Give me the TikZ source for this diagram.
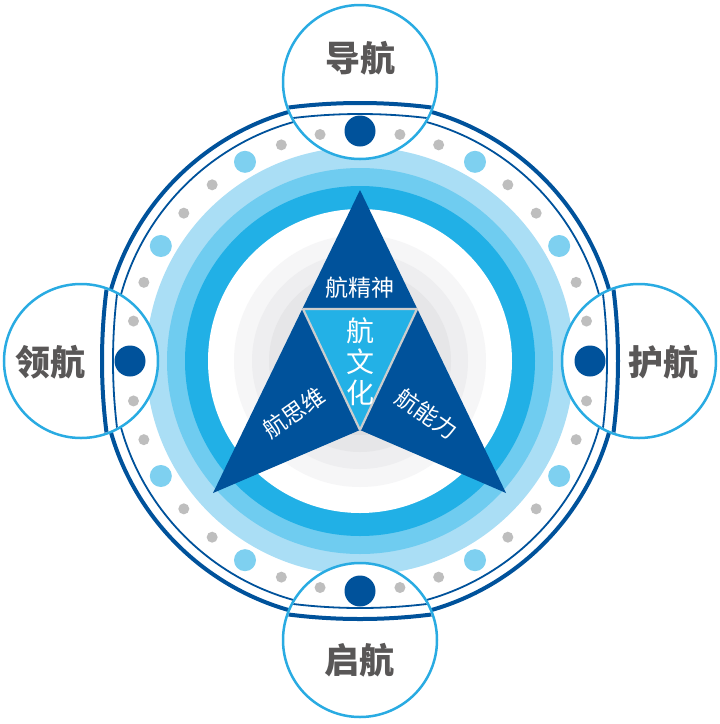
\documentclass[tikz,border=0pt]{standalone}
\usepackage{fontspec}
\newfontfamily\cjk{Noto Sans CJK SC}
\usepackage{tikz}
\usetikzlibrary{positioning}
\definecolor{navy}{RGB}{0,82,155}
\definecolor{cyanfill}{RGB}{35,177,230}
\definecolor{bandstrong}{RGB}{33,176,230}
\definecolor{bandmid}{RGB}{111,204,240}
\definecolor{bandlight}{RGB}{170,222,245}
\definecolor{dotblue}{RGB}{126,208,240}
\definecolor{dotgray}{RGB}{190,190,190}
\definecolor{lensblue}{RGB}{41,171,226}
\definecolor{labelgray}{RGB}{89,87,87}
\definecolor{seamgray}{RGB}{205,205,205}
\definecolor{grayA}{RGB}{246,246,247}
\definecolor{grayB}{RGB}{238,238,240}
\definecolor{grayC}{RGB}{230,230,232}
\definecolor{grayD}{RGB}{221,221,223}
\tikzset{
  lens/.style={circle, draw=lensblue, fill=white, line width=2.5pt,
    minimum size=154pt, inner sep=0pt},
  lenslabel/.style={text=labelgray, inner sep=0pt,
    font=\cjk\bfseries\fontsize{35}{35}\selectfont},
  tritext/.style={text=white, inner sep=0pt,
    font=\cjk\fontsize{23}{23}\selectfont},
  coretext/.style={text=white, inner sep=0pt,
    font=\cjk\fontsize{28}{28}\selectfont},
  ringthick/.style={draw=navy, line width=4pt},
  ringthin/.style={draw=navy, line width=1.8pt}
}

\begin{document}
\begin{tikzpicture}[x=1pt, y=-1pt]
  \useasboundingbox (0,0) rectangle (720,724);
  \coordinate (c) at (360,361);

  % bands and grey core
  \fill[bandlight] (c) circle (214pt);
  \fill[bandmid] (c) circle (193pt);
  \fill[bandstrong] (c) circle (175pt);
  \fill[white] (c) circle (152pt);
  \fill[grayA] (c) circle (126pt);
  \fill[grayB] (c) circle (108pt);
  \fill[grayC] (c) circle (91pt);
  \fill[grayD] (c) circle (74pt);

  % arrow head
  \fill[navy] (360,190) -- (213,493) -- (360,430) -- (506,493) -- cycle;
  \filldraw[fill=cyanfill, draw=seamgray, line width=2.2pt, line join=bevel]
    (303,309) -- (417,309) -- (360,430) -- cycle;

  \node[tritext] (jingshen) at (360,288) {航精神};
  \node[coretext] (hang) at (360,331) {航};
  \node[coretext] (wen) at (360,362) {文};
  \node[coretext] (hua) at (360,393) {化};
  \node[tritext, rotate=35] (siwei) at (294,413) {航思维};
  \node[tritext, rotate=-35] (nengli) at (427,414) {航能力};

  % outer double ring
  \draw[ringthick] (c) circle (259pt);
  \draw[ringthin] (c) circle (248pt);

  % lenses
  \node[lens] (daohang) at (360,82) {};
  \node[lens] (linghang) at (81,361) {};
  \node[lens] (huhang) at (639,361) {};
  \node[lens] (qihang) at (360,640) {};

  \begin{scope}[shift={(c)}]
    \foreach \a in {0,90,180,270} {
      \begin{scope}[rotate=\a]
        \clip (279,0) circle (75.5pt);
        \draw[ringthin] (-303,0) circle (550pt);
        \draw[ringthick] (-303,0) circle (561pt);
      \end{scope}
    }
    % dots
    \foreach \a in {0,90,180,270} {
      \fill[navy] (\a:230) circle (15.5pt);
      \foreach \b in {10,20,40,50,70,80}
        \fill[dotgray] (\a+\b:230) circle (5.5pt);
      \foreach \b in {30,60}
        \fill[dotblue] (\a+\b:230) circle (11pt);
    }
  \end{scope}

  \node[lenslabel] (daohanglbl) at (360,58) {导航};
  \node[lenslabel] (linghanglbl) at (51,362) {领航};
  \node[lenslabel] (huhanglbl) at (663,362) {护航};
  \node[lenslabel] (qihanglbl) at (359,660) {启航};
\end{tikzpicture}
\end{document}
